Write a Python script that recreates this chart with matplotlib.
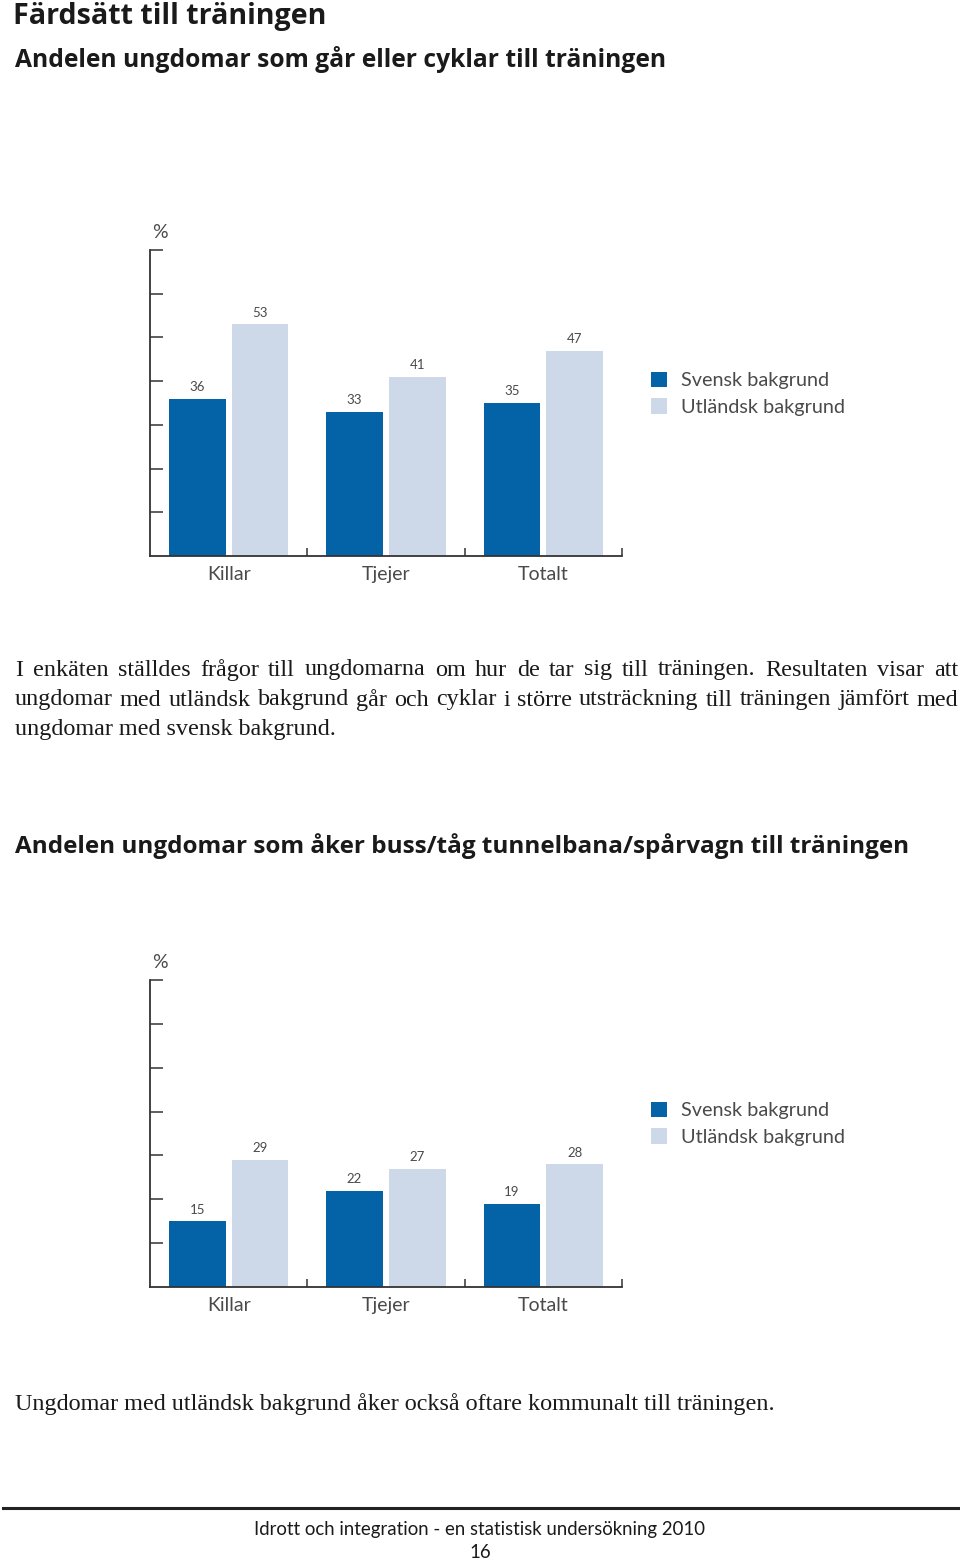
import matplotlib
matplotlib.use("Agg")
import matplotlib.pyplot as plt
import numpy as np

W, H = 960, 1562

# data
groups = ["Killar", "Tjejer", "Totalt"]
series = ["Svensk bakgrund", "Utländsk bakgrund"]
walk_bike_svensk = [36, 33, 35]
walk_bike_utl = [53, 41, 47]
transit_svensk = [15, 22, 19]
transit_utl = [29, 27, 28]

title_main = "Färdsätt till träningen"
title_1 = "Andelen ungdomar som går eller cyklar till träningen"
title_2 = "Andelen ungdomar som åker buss/tåg tunnelbana/spårvagn till träningen"
body_1 = [
    "I enkäten ställdes frågor till ungdomarna om hur de tar sig till träningen. Resultaten visar att",
    "ungdomar med utländsk bakgrund går och cyklar i större utsträckning till träningen jämfört med",
    "ungdomar med svensk bakgrund.",
]
body_2 = ["Ungdomar med utländsk bakgrund åker också oftare kommunalt till träningen."]
footer = "Idrott och integration - en statistisk undersökning 2010"
page_no = "16"

dark = "#0462a7"
light = "#cdd8e9"
gray = "#4a4a4a"
axcol = "#333333"
sans = ["Lato", "DejaVu Sans"]
head = ["Open Sans", "DejaVu Sans"]
serif = ["Liberation Serif", "DejaVu Serif"]


def px(x, y):
    return x / W, 1 - y / H


fig = plt.figure(figsize=(W / 100, H / 100), dpi=100)
rend = fig.canvas.get_renderer()


def fit_text(x, y, s, x_end, size=16, **kw):
    # scale the font so the text spans from x to x_end pixels; y = baseline
    t = fig.text(*px(x, y), s, fontsize=size, ha="left", va="baseline", **kw)
    w = t.get_window_extent(rend).width
    t.set_fontsize(size * (x_end - x) / w)
    return t


def bar_chart(top, bottom, vals_a, vals_b):
    l, b = px(150, bottom)
    ax = fig.add_axes([l, b, (622 - 150) / W, (bottom - top) / H])
    x = np.arange(len(groups)) + 0.5
    ba = ax.bar(x - 0.2, vals_a, 0.36, color=dark, label=series[0])
    bb = ax.bar(x + 0.2, vals_b, 0.36, color=light, label=series[1])
    for bars in (ba, bb):
        ax.bar_label(bars, padding=4, fontsize=9.5, color=gray, family=sans)
    ax.set_xlim(0, 3)
    ax.set_ylim(0, 70)
    ax.set_yticks(np.arange(10, 71, 10))
    ax.set_yticklabels([])
    ax.set_xticks([1, 2, 3])
    ax.set_xticklabels([])
    ax.set_xticks(x, minor=True)
    ax.set_xticklabels(groups, minor=True, fontsize=14, color=gray,
                       family=sans)
    ax.tick_params(axis="y", direction="in", length=9, width=1.1, color=axcol)
    ax.tick_params(axis="x", which="major", direction="in", length=6,
                   width=1.1, color=axcol)
    ax.tick_params(axis="x", which="minor", length=0, pad=7)
    for s in ("top", "right"):
        ax.spines[s].set_visible(False)
    for s in ("left", "bottom"):
        ax.spines[s].set_color(axcol)
        ax.spines[s].set_linewidth(1.3)
    fig.text(*px(160, top - 18), "%", ha="center", va="center",
             fontsize=14, color=gray, family=sans)
    ax.legend(loc="upper left", bbox_to_anchor=px(651, top + 122),
              bbox_transform=fig.transFigure, frameon=False, borderpad=0,
              borderaxespad=0, handlelength=0.8, handleheight=0.8,
              handletextpad=0.7, labelspacing=0.45,
              prop={"family": sans, "size": 14.3}, labelcolor=gray)
    return ax


def justify(lines, y0, step, left=15, right=958, size=17.4):
    for i, line in enumerate(lines):
        y = y0 + i * step
        words = line.split()
        if i == len(lines) - 1:
            fig.text(*px(left, y), line, ha="left", va="center",
                     fontsize=size, family=serif, color="#1a1a1a")
            continue
        ts = [fig.text(0, 0, w, fontsize=size, family=serif, color="#1a1a1a",
                       va="center") for w in words]
        widths = [t.get_window_extent(rend).width for t in ts]
        gap = (right - left - sum(widths)) / (len(words) - 1)
        xx = left
        for t, w in zip(ts, widths):
            t.set_position(px(xx, y))
            xx += w + gap


fit_text(13, 24, title_main, 327, fontweight="bold", family=head,
         color="#1a1a1a")
fit_text(15, 67, title_1, 665, fontweight="bold", family=head,
         color="#1a1a1a")
bar_chart(250, 556, walk_bike_svensk, walk_bike_utl)
justify(body_1, 670, 30)

fit_text(15, 853, title_2, 908, fontweight="bold", family=head,
         color="#1a1a1a")
bar_chart(980, 1287, transit_svensk, transit_utl)
justify(body_2, 1404, 30)

fig.add_artist(plt.Line2D([3 / W, 958 / W], [1 - 1508 / H] * 2,
                          color="#222222", lw=2.2))
fig.text(*px(480, 1529), footer, ha="center", va="center", fontsize=13.4,
         family=sans, color="#1a1a1a")
fig.text(*px(480, 1552), page_no, ha="center", va="center", fontsize=13.4,
         family=sans, color="#1a1a1a")

fig.savefig("out.png", dpi=100)
